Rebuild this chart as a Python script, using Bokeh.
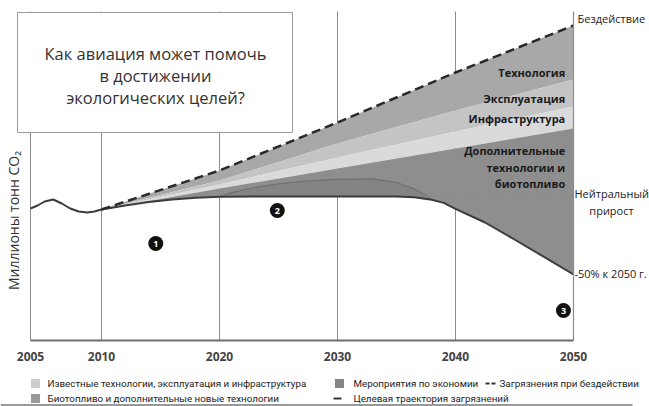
from bokeh.plotting import figure
from bokeh.models import Range1d
from bokeh.core.properties import value
from bokeh.embed import file_html
from bokeh.resources import INLINE

# ---- data (million tonnes of CO2) ----
hist_years = [2005, 2005.5, 2006, 2006.6, 2007.2, 2007.8, 2008.4, 2009.0, 2009.5, 2010]
hist_mt = [660, 675, 695, 705, 685, 660, 645, 640, 645, 655]

scen_years = [2010, 2020, 2030, 2040, 2050]
no_action = [655, 850, 1090, 1340, 1575]
after_technology = [655, 800, 985, 1150, 1305]
after_operations = [655, 780, 915, 1045, 1170]
after_infrastructure = [655, 760, 860, 960, 1060]

target_years = [2010, 2012, 2014, 2016, 2018, 2020, 2025, 2030, 2035, 2036.5,
                2038, 2039, 2040, 2042.5, 2045, 2047.5, 2050]
target_mt = [655, 675, 692, 705, 714, 719, 720, 720, 720, 716,
             704, 688, 658, 590, 505, 418, 330]

econ_years = [2020, 2021, 2022.5, 2025, 2027.5, 2030, 2033, 2035, 2036.5, 2037.5, 2038]
econ_top = [719, 738, 760, 783, 798, 806, 808, 790, 758, 725, 704]

neutral_level = 720
neutral_years = [2036.5, 2050]

tick_years = [2005, 2010, 2020, 2030, 2040, 2050]
tick_labels = ["2005", "2010", "2020", "2030", "2040", "2050"]

band_names = ["Технология", "Эксплуатация", "Инфраструктура"]
extra_lines = ["Дополнительные", "технологии и", "биотопливо"]

FONT = "Open Sans"
W, H = 649, 406


def xpos(year):
    # the 2005-2010 stretch is drawn wider than the later decades
    if year >= 2010:
        return year
    return 2010 - (2010 - year) * 1.2034


def xs(years):
    return [xpos(y) for y in years]


p = figure(width=W, height=H, output_backend="svg", toolbar_location=None,
           min_border=0, x_range=Range1d(2001.441, 2056.441),
           y_range=Range1d(-330, 1700))
p.axis.visible = False
p.grid.visible = False
p.outline_line_color = None
p.background_fill_color = "white"
p.border_fill_color = "white"
p.extra_x_ranges = {"px": Range1d(0, W)}
p.extra_y_ranges = {"px": Range1d(H, 0)}
px = dict(x_range_name="px", y_range_name="px")

top_mt = 1645

# vertical year lines
for yr in tick_years[:-1]:
    p.segment(xpos(yr), 0, xpos(yr), top_mt, line_color="#8c8c8c", line_width=1)


# stacked reduction bands
def band(upper_x, upper_y, lower_x, lower_y, color):
    p.patch(list(upper_x) + list(lower_x)[::-1], list(upper_y) + list(lower_y)[::-1],
            fill_color=color, line_color=None)


sx = xs(scen_years)
band(sx, no_action, sx, after_technology, "#a8a8a8")
band(sx, after_technology, sx, after_operations, "#c4c4c4")
band(sx, after_operations, sx, after_infrastructure, "#dadada")
band(sx, after_infrastructure, xs(target_years), target_mt, "#8e8e8e")

# savings measures region above the target path
t_sub = [(y, v) for y, v in zip(target_years, target_mt) if econ_years[0] <= y <= econ_years[-1]]
band(xs(econ_years), econ_top, xs([t[0] for t in t_sub]), [t[1] for t in t_sub], "#848484")
p.line(xs(econ_years), econ_top, line_color="#707070", line_width=1.2)

# neutral growth level
p.line(xs(neutral_years), [neutral_level, neutral_level], line_color="#8a8a8a",
       line_width=1.5, line_dash="7 5")

# emissions lines
p.line(xs(hist_years), hist_mt, line_color="#3c3c3c", line_width=2)
p.line(xs(target_years), target_mt, line_color="#3c3c3c", line_width=2)
p.line(sx, no_action, line_color="#2a2a2a", line_width=2.5, line_dash="9 5")

# right edge and baseline
p.segment(xpos(2050), 0, xpos(2050), top_mt, line_color="#8c8c8c", line_width=1.2)
p.segment(xpos(2005), 0, xpos(2050), 0, line_color="#6e6e6e", line_width=2)

# year labels
p.text(xs(tick_years), [0] * len(tick_years), text=tick_labels, y_offset=16,
       text_font=value(FONT), text_font_style="bold", text_font_size="12px",
       text_color="#444444", text_align="center", text_baseline="middle")

# band labels
band_y = [1340, 1210, 1110]
p.text([xpos(2049.3)] * 3, band_y, text=band_names, text_font=value(FONT),
       text_font_style="bold", text_font_size="11px", text_color="#1a1a1a",
       text_align="right", text_baseline="middle")
p.text([xpos(2049.3)] * 3, [950, 865, 785], text=extra_lines, text_font=value(FONT),
       text_font_style="bold", text_font_size="11px", text_color="#1a1a1a",
       text_align="right", text_baseline="middle")

# right-hand scenario labels
rt = dict(text_font=value(FONT), text_font_size="11px", text_color="#222222",
          text_baseline="middle")
p.text([xpos(2050)], [no_action[-1]], text=["Бездействие"], x_offset=4, y_offset=-7,
       text_align="left", **rt)
p.text([xpos(2050)], [neutral_level], text=["Нейтральный"], x_offset=1, y_offset=-3,
       text_align="left", **rt)
p.text([xpos(2050)], [neutral_level], text=["прирост"], x_offset=38, y_offset=14,
       text_align="center", **rt)
p.text([xpos(2050)], [target_mt[-1]], text=["-50% к 2050 г."], x_offset=1, y_offset=-1,
       text_align="left", **rt)

# numbered markers
marker_x = [2014.6, 2024.9, 2049.15]
marker_y = [485, 650, 150]
p.scatter(xs(marker_x), marker_y, size=15, fill_color="#111111", line_color=None)
p.text(xs(marker_x), marker_y, text=["1", "2", "3"], text_font=value(FONT),
       text_font_style="bold", text_font_size="9px", text_color="white",
       text_align="center", text_baseline="middle")

# title box
p.quad(left=17, right=292, top=12, bottom=132, fill_color="white",
       line_color="#9a9a9a", line_width=1, **px)
p.text([155, 155, 155], [53, 75, 97],
       text=["Как авиация может помочь", "в достижении", "экологических целей?"],
       text_font=value(FONT), text_font_size="16.5px", text_color="#333333",
       text_align="center", text_baseline="middle", **px)

# vertical axis title
p.text([13], [220], text=["Миллионы тонн CO₂"], angle=1.5708,
       text_font=value(FONT), text_font_size="14px", text_color="#333333",
       text_align="center", text_baseline="middle", **px)

# legend
lg = dict(text_font=value("Roboto"), text_font_size="9.8px", text_color="#222222",
          text_align="left", text_baseline="middle")
p.rect([35, 35, 339], [383, 398, 383], width=9, height=9,
       fill_color=["#cdcdcd", "#9a9a9a", "#858585"], line_color=None, **px)
p.text([47, 47, 353, 353, 499], [383, 398, 383, 398, 383],
       text=["Известные технологии,  эксплуатация и инфраструктура",
             "Биотопливо и дополнительные новые технологии",
             "Мероприятия по экономии",
             "Целевая траектория загрязнений",
             "Загрязнения при бездействии"], **lg, **px)
p.segment([485, 491], [383, 383], [489, 495], [383, 383], line_color="#333333",
          line_width=2, **px)
p.segment([333], [398], [341], [398], line_color="#333333", line_width=2, **px)

# bottom rule
p.segment([0], [404.5], [632], [404.5], line_color="#777777", line_width=1.5, **px)

open("out.html", "w").write(file_html(p, INLINE))
